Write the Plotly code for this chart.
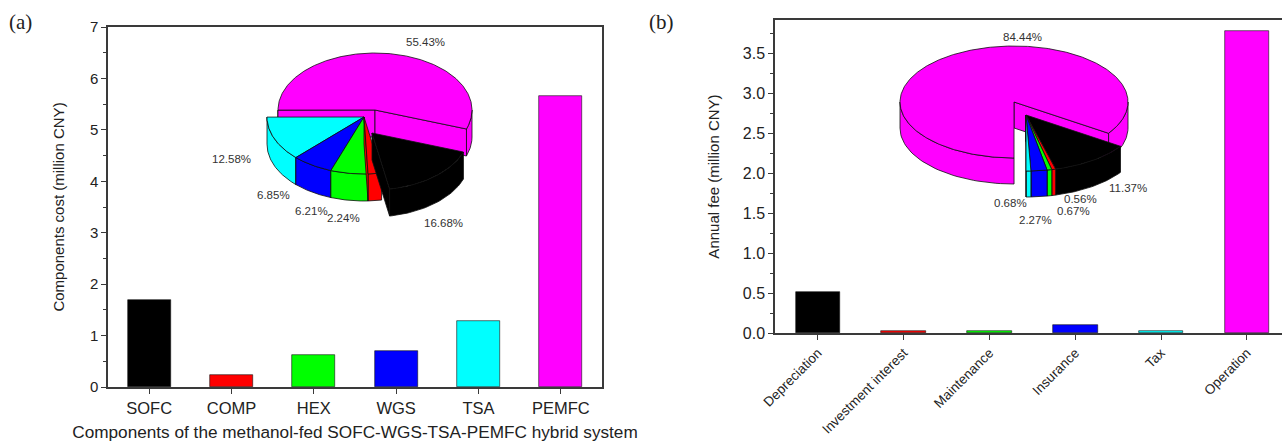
import numpy as np
import plotly.graph_objects as go

# ---- data -------------------------------------------------------------
components = ["SOFC", "COMP", "HEX", "WGS", "TSA", "PEMFC"]
component_cost = [1.70, 0.23, 0.63, 0.70, 1.28, 5.65]          # million CNY
component_share = [16.68, 2.24, 6.21, 6.85, 12.58, 55.43]       # %

fee_items = ["Depreciation", "Investment interest", "Maintenance",
             "Insurance", "Tax", "Operation"]
annual_fee = [0.51, 0.025, 0.03, 0.10, 0.03, 3.775]             # million CNY
fee_share = [11.37, 0.56, 0.67, 2.27, 0.68, 84.44]              # %

colors = ["#000000", "#ff0000", "#00ff00", "#0000ff", "#00ffff", "#ff00ff"]

W, H = 1282, 442
FONT = "Liberation Sans, Arial, sans-serif"
AX = "#3a3a3a"

fig = go.Figure()

# ---- bar charts -------------------------------------------------------
fig.add_trace(go.Bar(x=components, y=component_cost, width=0.52,
                     marker=dict(color=colors, line=dict(color="#111", width=0.6)),
                     xaxis="x", yaxis="y", showlegend=False))
fig.add_trace(go.Bar(x=fee_items, y=annual_fee, width=0.52,
                     marker=dict(color=colors, line=dict(color="#111", width=0.6)),
                     xaxis="x2", yaxis="y2", showlegend=False))


# ---- 3-D pie insets (drawn on a pixel-scaled overlay axis) -------------
def pie3d(shares, cx, cy, rx, ry, h, start, offsets):
    """Tilted, extruded pie; cx/cy in pixels from the top-left corner."""
    slices = []
    t = start
    for i, s in enumerate(shares):
        t1, t2 = t, t - s * 3.6
        t = t2
        dx, dy = offsets[i]
        slices.append((i, t1, t2, cx + dx, (H - cy) - dy))

    def rim(ox, oy, a, drop=0.0):
        a = np.radians(a)
        return ox + rx * np.cos(a), oy + ry * np.sin(a) - drop

    def poly(xs, ys, col):
        xs = list(xs) + [xs[0]]
        ys = list(ys) + [ys[0]]
        fig.add_trace(go.Scatter(x=xs, y=ys, mode="lines", fill="toself",
                                 fillcolor=col, line=dict(color="#101010", width=0.8),
                                 hoverinfo="skip", showlegend=False,
                                 xaxis="x3", yaxis="y3"))

    def depth(sl):
        return sl[4] + ry * np.sin(np.radians((sl[1] + sl[2]) / 2))

    for i, t1, t2, ox, oy in sorted(slices, key=depth, reverse=True):
        col = colors[i]
        # curved outer wall, front half only
        for k in (-2, -1, 0, 1):
            lo, hi = max(t2, -180 + 360 * k), min(t1, 360 * k)
            if hi > lo:
                a = np.linspace(hi, lo, 40)
                xt, yt = rim(ox, oy, a)
                xb, yb = rim(ox, oy, a[::-1], h)
                poly(np.concatenate([xt, xb]), np.concatenate([yt, yb]), col)
        # radial cut faces turned towards the viewer
        for a, vis in ((t1, np.cos(np.radians(t1)) < 0), (t2, np.cos(np.radians(t2)) > 0)):
            if vis:
                xr, yr = rim(ox, oy, a)
                poly([ox, xr, xr, ox], [oy, yr, yr - h, oy - h], col)
        # top face
        a = np.linspace(t1, t2, max(8, int((t1 - t2) * 1.5)))
        xt, yt = rim(ox, oy, a)
        poly(np.concatenate([[ox], xt]), np.concatenate([[oy], yt]), col)


pie3d(component_share, cx=375, cy=110, rx=97, ry=57, h=27, start=-19.5,
      offsets=[(-3, 23), (-11, 7), (-11, 7), (-11, 7), (-11, 7), (0, 0)])
pie3d(fee_share, cx=1014, cy=102, rx=114, ry=56, h=26, start=-34.0,
      offsets=[(12, 13), (12, 13), (12, 13), (12, 13), (12, 13), (0, 0)])

# percentage labels around the pies (pixel positions)
left_label_pos = [(443, 223), (343, 218), (311, 211), (273, 195), (231, 159), (425, 42)]
right_label_pos = [(1128, 188), (1080, 199), (1073, 211), (1035, 220), (1010, 203), (1022, 37)]
annotations = []
for shares, pos in ((component_share, left_label_pos), (fee_share, right_label_pos)):
    for s, (px, py) in zip(shares, pos):
        annotations.append(dict(x=px, y=H - py, xref="x3", yref="y3", text=f"{s:.2f}%",
                                showarrow=False, font=dict(family=FONT, size=11.5, color="#333")))

annotations += [
    dict(x=20, y=H - 22, xref="x3", yref="y3", text="(a)", showarrow=False,
         font=dict(family="Liberation Serif, Times New Roman, serif", size=21, color="#222")),
    dict(x=661, y=H - 22, xref="x3", yref="y3", text="(b)", showarrow=False,
         font=dict(family="Liberation Serif, Times New Roman, serif", size=21, color="#222")),
]

# ---- axes -------------------------------------------------------------
common_x = dict(showline=True, linecolor=AX, linewidth=1.5, mirror=True,
                ticks="outside", ticklen=5, tickcolor=AX, tickwidth=1.2,
                showgrid=False, zeroline=False, fixedrange=True, automargin=False)
common_y = dict(showline=True, linecolor=AX, linewidth=1.5,
                ticks="outside", ticklen=5, tickcolor=AX, tickwidth=1.2,
                showgrid=False, zeroline=False, fixedrange=True, automargin=False)

fig.update_layout(
    width=W, height=H, margin=dict(l=0, r=0, t=0, b=0),
    paper_bgcolor="white", plot_bgcolor="rgba(0,0,0,0)",
    font=dict(family=FONT, color="#222"),
    bargap=0,
    xaxis=dict(domain=[108 / W, 602 / W], range=[-0.5, 5.5],
               tickfont=dict(size=16.5, color="#222"),
               title=dict(text="Components of the methanol-fed SOFC-WGS-TSA-PEMFC hybrid system",
                          font=dict(size=17.2, color="#222"), standoff=11),
               **common_x),
    yaxis=dict(domain=[1 - 387 / H, 1 - 27 / H], range=[0, 7], dtick=1, mirror=True,
               tickfont=dict(size=15, color="#222"),
               title=dict(text="Components cost (million CNY)",
                          font=dict(size=15, color="#222"), standoff=22),
               minor=dict(ticks="outside", ticklen=3, tickcolor=AX, dtick=0.5),
               **common_y),
    xaxis2=dict(domain=[775 / W, 1.0], range=[-0.5, 5.41], anchor="y2",
                tickangle=-45, tickfont=dict(size=13.5, color="#222"),
                **common_x),
    yaxis2=dict(domain=[1 - 333 / H, 1 - 20 / H], range=[0, 3.9125], dtick=0.5,
                tickformat=".1f", anchor="x2", mirror=False,
                tickfont=dict(size=16, color="#222"),
                title=dict(text="Annual fee (million CNY)",
                           font=dict(size=15, color="#222"), standoff=20),
                minor=dict(ticks="outside", ticklen=3, tickcolor=AX, dtick=0.25),
                **common_y),
    xaxis3=dict(domain=[0, 1], range=[0, W], visible=False, fixedrange=True,
                anchor="y3", automargin=False),
    yaxis3=dict(domain=[0, 1], range=[0, H], visible=False, fixedrange=True,
                anchor="x3", automargin=False),
    annotations=annotations,
)

fig.write_html("out.html")
